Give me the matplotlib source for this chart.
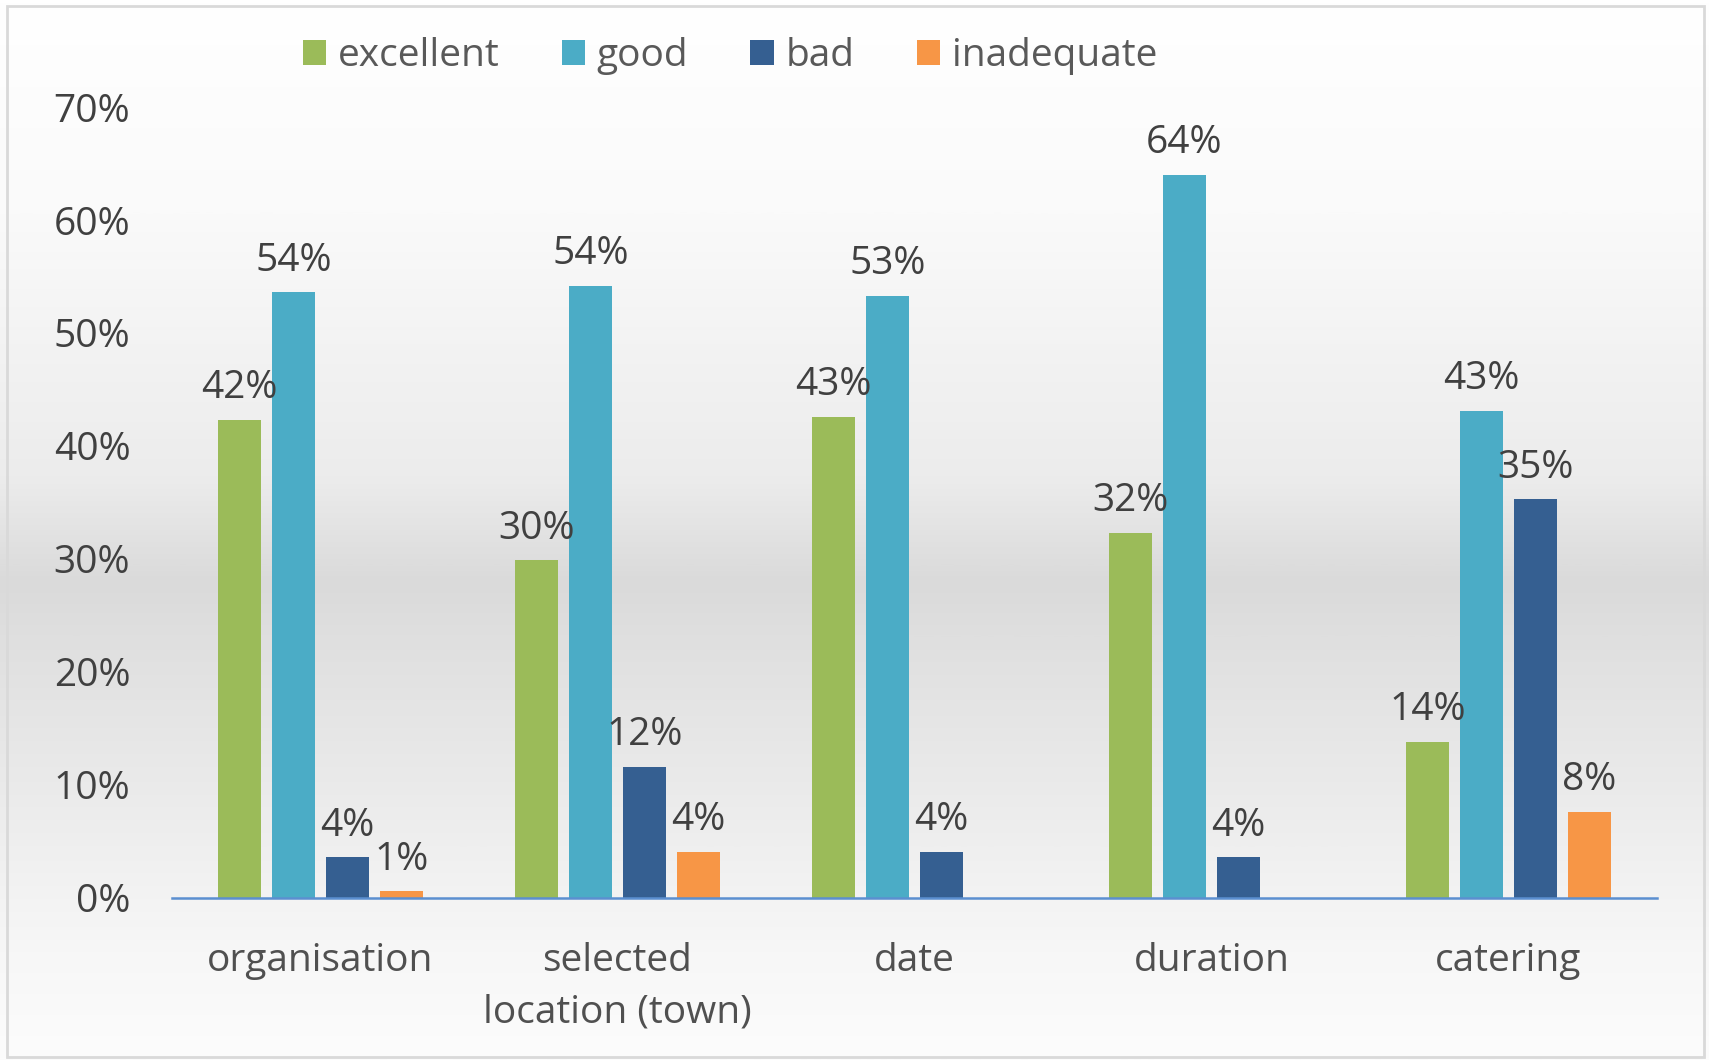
import numpy as np
import matplotlib.pyplot as plt
from matplotlib.patches import Patch, Rectangle
from matplotlib.colors import LinearSegmentedColormap
from matplotlib.ticker import PercentFormatter

categories = ['organisation', 'selected\nlocation (town)', 'date', 'duration', 'catering']
series = ['excellent', 'good', 'bad', 'inadequate']
excellent = [42.3, 29.9, 42.6, 32.3, 13.8]
good = [53.6, 54.2, 53.3, 64.0, 43.1]
bad = [3.6, 11.6, 4.1, 3.6, 35.3]
inadequate = [0.6, 4.1, 0.0, 0.0, 7.6]
colors = ['#9BBB59', '#4BACC6', '#355F91', '#F79646']

plt.rcParams['font.family'] = ['Open Sans', 'DejaVu Sans']
text_col = '#404040'

fig = plt.figure(figsize=(17.09, 10.60), dpi=100)

# gradient background over the whole chart area
bg = fig.add_axes([0, 0, 1, 1], zorder=-10)
grad = LinearSegmentedColormap.from_list('bg', [
    (0.0, '#ffffff'), (0.2, '#fafafa'), (0.45, '#ececec'), (0.55, '#dadada'),
    (0.6, '#dfdfdf'), (0.75, '#ebebeb'), (0.9, '#f7f7f7'), (1.0, '#fcfcfc')])
bg.imshow(np.linspace(0, 1, 512).reshape(-1, 1), aspect='auto', cmap=grad,
          extent=[0, 1, 0, 1], origin='upper')
bg.add_patch(Rectangle((0.004, 0.003), 0.993, 0.991, transform=bg.transAxes,
                       fill=False, edgecolor='#d9d9d9', linewidth=2))
bg.set_xlim(0, 1)
bg.set_ylim(0, 1)
bg.axis('off')

ax = fig.add_axes([0.1006, 0.153, 0.869, 0.746])
ax.patch.set_alpha(0)

x = np.arange(len(categories))
width = 0.143
pitch = 0.182
data = [excellent, good, bad, inadequate]
for i, (name, vals, c) in enumerate(zip(series, data, colors)):
    pos = x + (i - 1.5) * pitch
    ax.bar(pos, vals, width, color=c, label=name, zorder=3)
    for p, v in zip(pos, vals):
        if v > 0:
            ax.annotate(f'{v:.0f}%', (p, v), xytext=(0, 9), textcoords='offset points',
                        ha='center', va='bottom', fontsize=28, color=text_col,
                        annotation_clip=False, zorder=4)

ax.set_xlim(-0.5, len(categories) - 0.5)
ax.set_ylim(0, 70)
ax.set_yticks(np.arange(0, 71, 10))
ax.yaxis.set_major_formatter(PercentFormatter(decimals=0))
ax.set_xticks(x)
ax.set_xticklabels(categories, linespacing=1.47)
ax.tick_params(axis='y', length=0, pad=30, labelsize=28, labelcolor=text_col)
ax.tick_params(axis='x', length=0, pad=32, labelsize=28, labelcolor='#505050')
for s in ['top', 'right', 'left']:
    ax.spines[s].set_visible(False)
ax.spines['bottom'].set_color('#5B8FD0')
ax.spines['bottom'].set_linewidth(1.8)
ax.spines['bottom'].set_zorder(5)

handles = [Patch(facecolor=c, label=n) for n, c in zip(series, colors)]
fig.legend(handles=handles, loc='center', bbox_to_anchor=(0.427, 0.947), ncol=4,
           frameon=False, handlelength=0.6, handleheight=0.6, handletextpad=0.3,
           columnspacing=1.6, fontsize=28, labelcolor='#595959')

fig.savefig('out.png', dpi=100)
